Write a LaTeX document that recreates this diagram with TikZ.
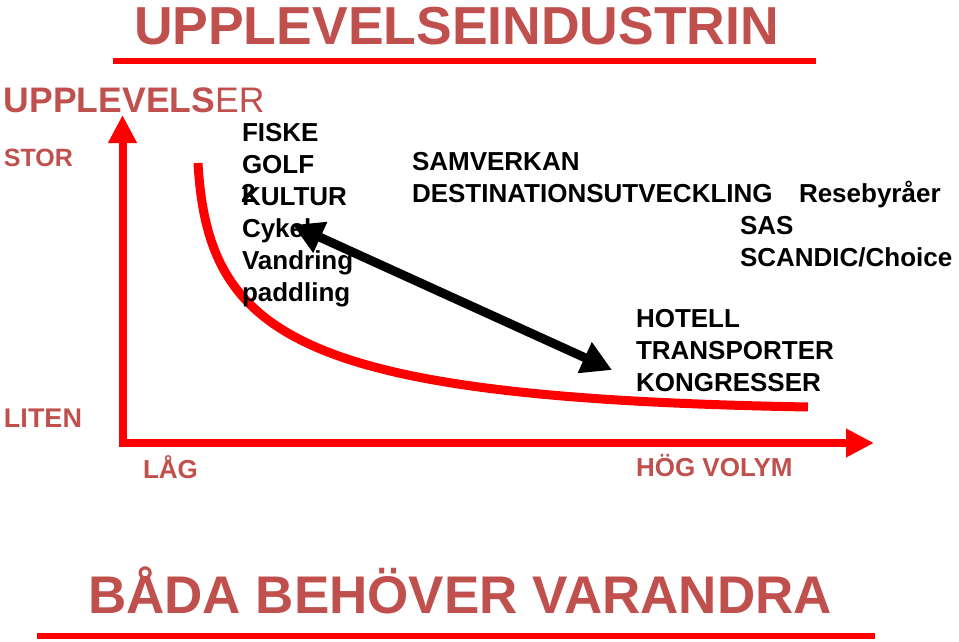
\documentclass[tikz,border=0pt]{standalone}
\usepackage{fontspec}
\setmainfont{Liberation Sans}
\usetikzlibrary{arrows.meta}
\definecolor{titlered}{HTML}{C0504D}
\definecolor{axisred}{HTML}{FF0000}
\tikzset{
  txt/.style={anchor=base west, inner sep=0pt, outer sep=0pt, font=\bfseries\fontsize{26}{30}\selectfont, text=black},
  redtxt/.style={txt, text=titlered},
  axis/.style={draw=axisred, line width=8pt, -{Triangle[length=28pt,width=27pt]}},
  rule/.style={draw=axisred, line width=6pt},
}
\begin{document}
\begin{tikzpicture}[x=1pt,y=-1pt]
\useasboundingbox (0,0) rectangle (959,642);
% title
\node[redtxt, font=\bfseries\fontsize{53.5}{60}\selectfont] (title) at (134,45) {UPPLEVELSEINDUSTRIN};
\draw[rule] (113,61) -- (816,61);
% y axis label
\node[redtxt, font=\fontsize{35.5}{40}\selectfont] (upp) at (4,112) {\textbf{UPPLEVELS}ER};
\node[redtxt, font=\bfseries\fontsize{25}{30}\selectfont] (stor) at (4,166) {STOR};
\node[redtxt, font=\bfseries\fontsize{27}{30}\selectfont] (liten) at (4,427) {LITEN};
\node[redtxt] (lag) at (143,478) {LÅG};
\node[redtxt] (hog) at (636,476) {HÖG VOLYM};
% axes
\coordinate (org) at (122.5,447);
\coordinate (ytip) at (122.5,115);
\coordinate (xorg) at (118.5,443);
\coordinate (xtip) at (874,443);
\draw[axis] (org) -- (ytip);
\draw[axis] (xorg) -- (xtip);
% curve
\draw[draw=axisred, line width=9pt]
  (198,163) .. controls (208,338) and (300,398) .. (808,407);
% left list
\node[txt] (fiske) at (242,141) {FISKE};
\node[txt] (golf) at (242,173) {GOLF};
\node[txt] (kultur) at (242,205) {KULTUR};
\node[txt] (two) at (241,202) {2};
\node[txt] (cykel) at (242,237) {Cykel};
\node[txt] (vandring) at (242,269) {Vandring};
\node[txt] (paddling) at (242,301) {paddling};
% right upper
\node[txt] (samv) at (412,170) {SAMVERKAN};
\node[txt] (dest) at (412,202) {DESTINATIONSUTVECKLING};
\node[txt] (rese) at (799,202) {Resebyråer};
\node[txt] (sas) at (740,234) {SAS};
\node[txt] (scandic) at (740,266) {SCANDIC/Choice};
% right lower
\node[txt] (hotell) at (636,327) {HOTELL};
\node[txt] (transp) at (636,359) {TRANSPORTER};
\node[txt] (kongr) at (636,391) {KONGRESSER};
% double arrow
\coordinate (aL) at (293,225);
\coordinate (aR) at (612,370);
\draw[line width=9pt, {Triangle[length=30pt,width=32pt]}-{Triangle[length=30pt,width=32pt]}] (aL) -- (aR);
% bottom
\node[redtxt, font=\bfseries\fontsize{53}{60}\selectfont] (bada) at (88,613) {BÅDA BEHÖVER VARANDRA};
\draw[rule] (37,636) -- (875,636);
\end{tikzpicture}
\end{document}
